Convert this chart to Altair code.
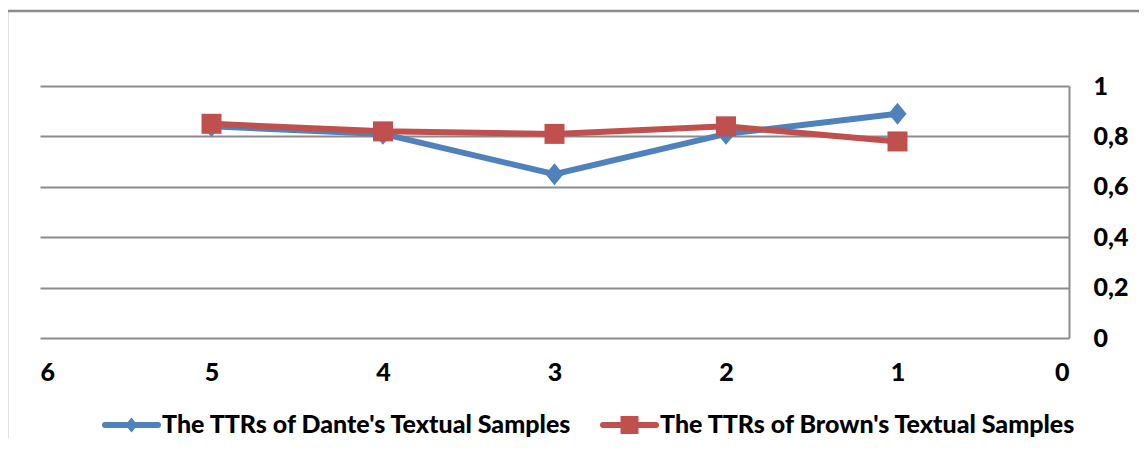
import altair as alt
import pandas as pd

# ---- data ----
samples = [5, 4, 3, 2, 1]
dante = [0.84, 0.81, 0.65, 0.81, 0.89]
brown = [0.85, 0.82, 0.81, 0.84, 0.78]
series_names = ["The TTRs of Dante's Textual Samples", "The TTRs of Brown's Textual Samples"]
series_colors = ["#4F81BD", "#C0504D"]
x_ticks = [0, 1, 2, 3, 4, 5, 6]
y_ticks = [0, 0.2, 0.4, 0.6, 0.8, 1]

W, H = 1029, 252
FONT = "Lato"
FS = 25
GRID = "#8c8c8c"
DIAMOND = "M0,-1.15L0.95,0L0,1.15L-0.95,0Z"

df_d = pd.DataFrame({"sample": samples, "ttr": dante, "series": series_names[0]})
df_b = pd.DataFrame({"sample": samples, "ttr": brown, "series": series_names[1]})

x_scale = alt.Scale(domain=[0, 6], reverse=True, nice=False, zero=False)
y_scale = alt.Scale(domain=[0, 1], nice=False)

x_axis = alt.Axis(values=x_ticks, grid=False, domain=False, ticks=False, title=None,
                  format="d", labelFont=FONT, labelFontSize=FS, labelFontWeight=900,
                  labelColor="black", labelPadding=22)
y_axis = alt.Axis(orient="right", values=y_ticks, grid=True, gridColor=GRID, gridWidth=2,
                  gridOpacity=1, domain=True, domainColor=GRID, domainWidth=2, ticks=False,
                  title=None, labelAlign="left", labelPadding=24, labelFont=FONT,
                  labelFontSize=FS, labelFontWeight=900, labelColor="black",
                  labelExpr="replace(format(datum.value, '~g'), '.', ',')")

base_axes = alt.Chart(df_d).mark_line(opacity=0).encode(
    x=alt.X("sample:Q", scale=x_scale, axis=x_axis),
    y=alt.Y("ttr:Q", scale=y_scale, axis=y_axis),
)


def series_layers(df, color, shape, size):
    line = alt.Chart(df).mark_line(color=color, strokeWidth=6).encode(
        x=alt.X("sample:Q", scale=x_scale),
        y=alt.Y("ttr:Q", scale=y_scale),
    )
    pts = alt.Chart(df).mark_point(color=color, filled=True, opacity=1, shape=shape, size=size).encode(
        x=alt.X("sample:Q", scale=x_scale),
        y=alt.Y("ttr:Q", scale=y_scale),
    )
    return [line, pts]


def legend_layers(name, color, shape, size, x0, x1, xt, yc):
    d = pd.DataFrame({"name": [name]})
    rule = alt.Chart(d).mark_rule(color=color, strokeWidth=6, strokeCap="round").encode(
        x=alt.value(x0), x2=alt.value(x1), y=alt.value(yc))
    pt = alt.Chart(d).mark_point(color=color, filled=True, opacity=1, shape=shape, size=size).encode(
        x=alt.value((x0 + x1) / 2), y=alt.value(yc))
    txt = alt.Chart(d).mark_text(align="left", baseline="middle", font=FONT, fontSize=FS,
                                 fontWeight=900, color="black").encode(
        text="name:N", x=alt.value(xt), y=alt.value(yc))
    return [rule, pt, txt]


d0 = pd.DataFrame({"k": [0]})
border_left = alt.Chart(d0).mark_rule(color=GRID, strokeWidth=2.5).encode(
    x=alt.value(-33), y=alt.value(-75), y2=alt.value(H + 120))
border_top = alt.Chart(d0).mark_rule(color=GRID, strokeWidth=2.5).encode(
    x=alt.value(-33), x2=alt.value(W + 120), y=alt.value(-75))

layers = [border_left, border_top, base_axes]
layers += series_layers(df_d, series_colors[0], DIAMOND, 361)
layers += series_layers(df_b, series_colors[1], "square", 400)
layers += legend_layers(series_names[0], series_colors[0], DIAMOND, 170, 65, 118, 122, 339)
layers += legend_layers(series_names[1], series_colors[1], "square", 324, 563, 616, 620, 339)

chart = alt.layer(*layers).properties(
    width=W, height=H,
    background="white",
    autosize=alt.AutoSizeParams(type="none"),
    padding={"left": 32, "top": 78, "right": 70, "bottom": 100},
).configure_view(stroke=None)

chart.save("out.html", embed_options={"renderer": "svg", "actions": False})
